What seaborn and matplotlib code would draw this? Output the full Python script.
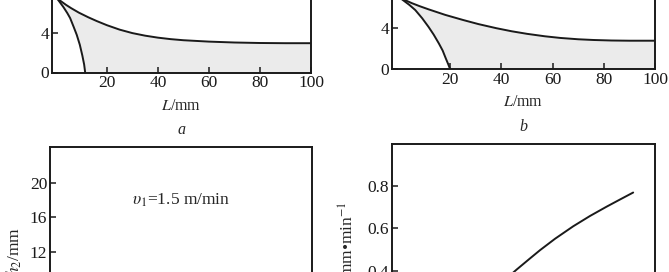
import numpy as np
import pandas as pd
import matplotlib
matplotlib.use("Agg")
import matplotlib.pyplot as plt
import seaborn as sns

# ---- data ----
a_outer_L = [0, 2, 4, 6, 9, 12.7, 16, 20, 25, 30, 35, 40, 45, 50, 60, 70, 80, 90, 100]
a_outer_h = [7.6, 7.2, 6.83, 6.5, 6.05, 5.58, 5.2, 4.78, 4.33, 3.98, 3.72, 3.52, 3.37, 3.26, 3.12, 3.03, 2.98, 2.96, 2.96]
a_inner_L = [0, 1, 3, 4.5, 5.6, 7, 8.2, 9.4, 10.4, 11.1, 11.5]
a_inner_h = [7.6, 7.3, 6.6, 6.0, 5.5, 4.6, 3.8, 2.8, 1.7, 0.8, 0.0]

b_outer_L = [0, 2, 5, 8, 11.5, 18, 25, 31, 38, 44, 50, 57, 63, 70, 76, 83, 90, 100]
b_outer_h = [7.0, 6.75, 6.42, 6.13, 5.82, 5.28, 4.78, 4.38, 3.98, 3.68, 3.43, 3.19, 3.03, 2.9, 2.83, 2.78, 2.76, 2.76]
b_inner_L = [0, 1.6, 4, 6.3, 9, 11.5, 13.5, 15.5, 17, 18.2, 19.2, 19.9]
b_inner_h = [7.0, 6.7, 6.25, 5.75, 4.95, 4.1, 3.35, 2.5, 1.8, 1.05, 0.45, 0.0]

d_x = [43.0, 47.4, 52.5, 56.3, 62.0, 68.9, 75.3, 81.6, 86.7, 91.7]
d_y = [0.357, 0.405, 0.458, 0.497, 0.551, 0.610, 0.659, 0.703, 0.737, 0.770]

top_xticks = [20, 40, 60, 80, 100]
top_yticks = [0, 4]
bl_yticks = [12, 16, 20]
br_yticks = [0.4, 0.6, 0.8]
br_yticklabels = ["0.4", "0.6", "0.8"]

sns.set_theme(style="ticks")
plt.rcParams["font.family"] = ["Liberation Serif", "DejaVu Serif"]
plt.rcParams["mathtext.fontset"] = "stix"

W, H = 669, 272
fig = plt.figure(figsize=(W / 100, H / 100), dpi=100)
fig.patch.set_facecolor("white")

def add_ax(l, r, bottom_px, height_px):
    return fig.add_axes([l / W, 1 - bottom_px / H, (r - l) / W, height_px / H])

FS = 12.5
LINE = "#1a1a1a"
FILL = "#ebebeb"

def style(ax):
    for s in ax.spines.values():
        s.set_linewidth(1.4)
        s.set_color(LINE)
    ax.tick_params(direction="in", length=4, width=1.1, colors=LINE,
                   labelsize=FS, pad=2)
    ax.set_facecolor("white")

def top_panel(ax, oL, oh, iL, ih, letter, xmin, bottom_h_px, ytop):
    poly_x = list(oL) + [100, 100] + list(iL[::-1])
    poly_y = list(oh) + [oh[-1], 0] + list(ih[::-1])
    ax.fill(poly_x, poly_y, color=FILL, lw=0, zorder=0)
    sns.lineplot(x=oL, y=oh, ax=ax, color=LINE, lw=1.4, estimator=None, sort=False)
    sns.lineplot(x=iL, y=ih, ax=ax, color=LINE, lw=1.4, estimator=None, sort=False)
    ax.set_xlim(xmin, 100)
    ax.set_ylim(0, ytop)
    ax.set_xticks(top_xticks)
    ax.set_yticks(top_yticks)
    style(ax)
    ax.set_xlabel("$L$/mm", fontsize=11.5, va="center")
    ax.xaxis.set_label_coords(0.5, -33.5 / bottom_h_px)
    ax.set_ylabel("")
    ax.text(0.5, -58 / bottom_h_px, letter, transform=ax.transAxes, ha="center",
            va="center", fontsize=11.5, style="italic")

# panel a  (9.9 px per unit, 12 units tall)
ax_a = add_ax(52, 311, 72.5, 118.8)
top_panel(ax_a, a_outer_L, a_outer_h, a_inner_L, a_inner_h, "a", -1.5, 118.8, 12)

# panel b  (10.25 px per unit)
ax_b = add_ax(392, 655, 69, 123)
top_panel(ax_b, b_outer_L, b_outer_h, b_inner_L, b_inner_h, "b", -2.8, 123, 12)

# panel c (bottom-left)
ax_c = add_ax(50, 312, 355, 208)
ax_c.set_xlim(0, 100)
ax_c.set_ylim(0, 24.2)
ax_c.set_yticks(bl_yticks)
ax_c.set_xticks([])
style(ax_c)
ax_c.text(0.5, 1 - 53 / 208, r"$\upsilon_1$=1.5 m/min", transform=ax_c.transAxes,
          ha="center", va="center", fontsize=12.5)
ax_c.set_ylabel("$h_2$/mm", fontsize=12.5, va="center")
ax_c.yaxis.set_label_coords(-36 / 262, 0.5)

# panel d (bottom-right)
ax_d = add_ax(392, 655, 355, 211)
sns.lineplot(x=d_x, y=d_y, ax=ax_d, color=LINE, lw=1.4, estimator=None, sort=False)
ax_d.set_xlim(0, 100)
ax_d.set_ylim(0, 1.0)
ax_d.set_yticks(br_yticks)
ax_d.set_yticklabels(br_yticklabels)
ax_d.set_xticks([])
style(ax_d)
ax_d.set_ylabel("$\\upsilon_2$/mm\u2022min$^{-1}$", fontsize=12.5, va="center")
ax_d.yaxis.set_label_coords(-45 / 263, 0.5)

fig.savefig("out.png", dpi=100, facecolor="white")
